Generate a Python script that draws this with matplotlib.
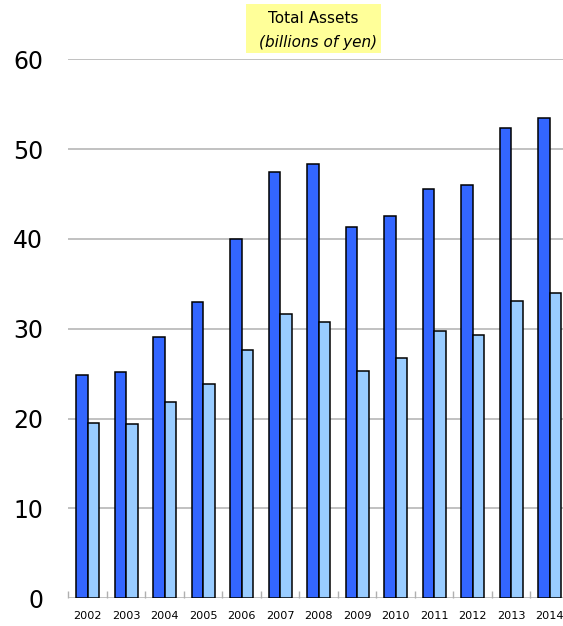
import numpy as np
import matplotlib.pyplot as plt
from matplotlib.patches import Rectangle

years = ['2002', '2003', '2004', '2005', '2006', '2007', '2008',
         '2009', '2010', '2011', '2012', '2013', '2014']
assets_dark = [24.9, 25.2, 29.1, 33.0, 40.0, 47.5, 48.3, 41.3, 42.6, 45.6, 46.0, 52.3, 53.5]
assets_light = [19.5, 19.4, 21.9, 23.9, 27.6, 31.7, 30.8, 25.3, 26.7, 29.7, 29.3, 33.1, 34.0]
y_ticks = [0, 10, 20, 30, 40, 50, 60]

W, H = 563, 626
fig = plt.figure(figsize=(W / 100, H / 100), dpi=100)
ax = fig.add_axes([68.3 / W, 1 - 598.3 / H, 1 - 68.3 / W, (598.3 - 59.3) / H])

x = np.arange(len(years))
bw = 0.30
ax.bar(x - bw / 2, assets_dark, bw, color='#3366ff', edgecolor='black', linewidth=1.1, zorder=3)
ax.bar(x + bw / 2, assets_light, bw, color='#99ccff', edgecolor='black', linewidth=1.1, zorder=3)

ax.set_xlim(-0.5, len(years) - 1 + 0.346)
ax.set_ylim(0, 60)
ax.set_yticks(y_ticks)
ax.set_yticklabels([str(v) for v in y_ticks], fontsize=17)
ax.set_xticks(x)
ax.set_xticklabels(years, fontsize=8.1)
ax.set_xticks(x - 0.5, minor=True)
ax.tick_params(axis='y', length=0, pad=18)
ax.tick_params(axis='x', which='major', length=0, pad=9)
ax.tick_params(axis='x', which='minor', direction='in', length=5, color='#b0b0b0', width=1)
# keep the last year label inside the figure
ax.get_xticklabels()[-1].set_x(len(years) - 1.05)

ax.yaxis.grid(True, color='#b0b0b0', linewidth=1.1, zorder=0)
ax.set_axisbelow(True)
for s in ax.spines.values():
    s.set_visible(False)

# yellow title box
fig.patches.append(Rectangle((246 / W, 1 - 53 / H), 135 / W, 49 / H,
                             transform=fig.transFigure, facecolor='#ffff99',
                             edgecolor='none', zorder=0))
fig.text(313 / W, 1 - 18.5 / H, 'Total Assets', ha='center', va='center', fontsize=11)
fig.text(318 / W, 1 - 42 / H, '(billions of yen)', ha='center', va='center',
         fontsize=11, style='italic')

fig.savefig('out.png', dpi=100)
